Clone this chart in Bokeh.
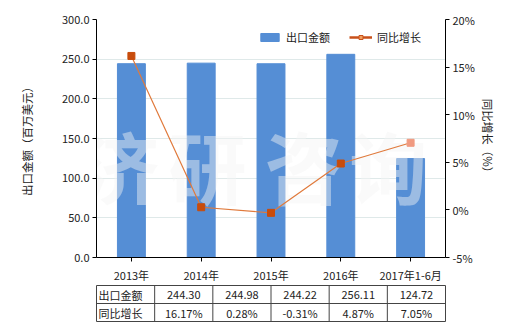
from bokeh.plotting import figure
from bokeh.models import (Range1d, LinearAxis, Legend, LegendItem,
                          ColumnDataSource, FixedTicker, PrintfTickFormatter)
from bokeh.layouts import column
from bokeh.core.properties import value
from bokeh.embed import file_html
from bokeh.resources import INLINE

years = ["2013年", "2014年", "2015年", "2016年", "2017年1-6月"]
export = [244.30, 244.98, 244.22, 256.11, 124.72]
growth = [16.17, 0.28, -0.31, 4.87, 7.05]
export_labels = ["244.30", "244.98", "244.22", "256.11", "124.72"]
growth_labels = ["16.17%", "0.28%", "-0.31%", "4.87%", "7.05%"]
row_names = ["出口金额", "同比增长"]
left_ticks = [0, 50, 100, 150, 200, 250, 300]
right_ticks = [-5, 0, 5, 10, 15, 20]

FONT = "Noto Sans CJK SC"
BAR = "#558ed5"
LINE = "#e07a3c"
MARK = "#c84c0c"
MARK_LAST = "#f09a80"
TXT = "#222222"

n = len(years)
xs = [i + 0.5 for i in range(n)]
NAN = float("nan")

p = figure(x_range=Range1d(0, n), y_range=Range1d(0, 300),
           width=520, height=285, output_backend="svg", toolbar_location=None,
           min_border_left=96, min_border_right=75, min_border_top=19,
           min_border_bottom=26)
p.outline_line_color = None
p.background_fill_color = "white"
p.border_fill_color = "white"
p.xgrid.grid_line_color = None
p.ygrid.grid_line_color = "#dfe9e9"
p.ygrid.grid_line_width = 1

p.extra_y_ranges = {"g": Range1d(-5, 20)}

# bars
p.vbar(x=xs, top=export, width=0.4, color=BAR)

# watermark (decoration)
wm = ColumnDataSource(dict(x=[0.34, 1.59, 2.97, 4.18], y=[116, 116, 116, 116],
                           t=["济", "研", "咨", "询"]))
p.text(x="x", y="y", text="t", source=wm,
       text_font=value(FONT), text_font_size="78px", text_font_style="bold",
       text_color="#f4f4f4", text_alpha=0.45, text_align="center",
       text_baseline="middle")

# growth line
cols = [MARK] * (n - 1) + [MARK_LAST]
src = ColumnDataSource(dict(x=xs, y=growth, c=cols))
p.line(x="x", y="y", source=src, y_range_name="g", line_color=LINE, line_width=1.2)
p.scatter(x="x", y="y", source=src, y_range_name="g", marker="square", size=7,
          fill_color="c", line_color="c")

# legend-only renderers (one invisible NaN point each)
lb = p.vbar(x=[NAN], top=[NAN], width=0.4, color=BAR)
ll = p.line(x=[NAN], y=[NAN], line_color="#c8501a", line_width=2.5)
lm = p.scatter(x=[NAN], y=[NAN], marker="square", size=5, fill_color="#f0a060",
               line_color="#c8501a")
legend = Legend(items=[LegendItem(label="出口金额", renderers=[lb]),
                       LegendItem(label="同比增长", renderers=[ll, lm])],
                orientation="horizontal", location=(162, 212),
                background_fill_alpha=0, border_line_color=None,
                padding=0, margin=0, spacing=19, label_standoff=5,
                glyph_width=23, glyph_height=10, label_height=12,
                label_text_font=FONT, label_text_font_size="11px",
                label_text_color=TXT)
p.add_layout(legend)

# axes
def style(ax, standoff):
    ax.axis_line_color = "black"
    ax.major_tick_line_color = "black"
    ax.major_tick_out = 4
    ax.major_tick_in = 0
    ax.minor_tick_line_color = None
    ax.major_label_text_font = FONT
    ax.major_label_text_font_size = "11px"
    ax.major_label_text_color = TXT
    ax.major_label_standoff = standoff
    ax.axis_label_text_font = FONT
    ax.axis_label_text_font_size = "11.5px"
    ax.axis_label_text_font_style = "normal"
    ax.axis_label_text_color = TXT

style(p.xaxis[0], 5)
p.xaxis[0].ticker = FixedTicker(ticks=xs)
p.xaxis[0].major_label_overrides = {x: y for x, y in zip(xs, years)}

style(p.yaxis[0], 3)
p.yaxis[0].ticker = FixedTicker(ticks=left_ticks)
p.yaxis[0].formatter = PrintfTickFormatter(format="%.1f")
p.yaxis[0].axis_label = "出口金额（百万美元）"
p.yaxis[0].axis_label_standoff = 24

ra = LinearAxis(y_range_name="g", ticker=FixedTicker(ticks=right_ticks),
                formatter=PrintfTickFormatter(format="%d%%"),
                axis_label="同比增长（%）")
style(ra, 3)
ra.axis_label_standoff = 2
p.add_layout(ra, "right")

# table
t = figure(x_range=Range1d(-1, n), y_range=Range1d(0, 2), width=520, height=45,
           output_backend="svg", toolbar_location=None,
           min_border_left=26, min_border_right=75, min_border_top=0,
           min_border_bottom=9)
t.axis.visible = False
t.grid.visible = False
t.outline_line_color = "#444444"
t.outline_line_width = 1
t.background_fill_color = "white"
t.border_fill_color = "white"

t.segment(x0=list(range(n)), x1=list(range(n)), y0=[0] * n, y1=[2] * n,
          line_color="#444444", line_width=1)
t.segment(x0=[-1], x1=[n], y0=[1], y1=[1], line_color="#444444", line_width=1)

t.text(x=[-1, -1], y=[1.5, 0.5], text=row_names, x_offset=2,
       text_font=value(FONT), text_font_size="11px", text_color=TXT,
       text_align="left", text_baseline="middle")
t.text(x=xs + xs, y=[1.5] * n + [0.5] * n, text=export_labels + growth_labels,
       text_font=value(FONT), text_font_size="11px", text_color=TXT,
       text_align="center", text_baseline="middle")

layout = column(p, t, spacing=0)
open("out.html", "w").write(file_html(layout, INLINE))
